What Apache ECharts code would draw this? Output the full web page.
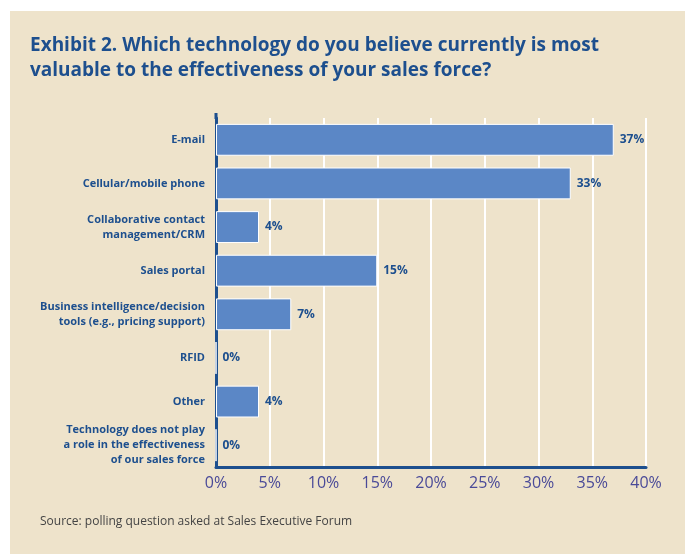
<!DOCTYPE html>
<html>
<head>
<meta charset="utf-8">
<script src="https://cdn.jsdelivr.net/npm/echarts@6/dist/echarts.min.js"></script>
<style>
  html, body { margin: 0; padding: 0; background: #fff; }
  #chart { width: 685px; height: 554px; }
</style>
</head>
<body>
<div id="chart"></div>
<script>
var categories = [
  'E-mail',
  'Cellular/mobile phone',
  'Collaborative contact\nmanagement/CRM',
  'Sales portal',
  'Business intelligence/decision\ntools (e.g., pricing support)',
  'RFID',
  'Other',
  'Technology does not play\na role in the effectiveness\nof our sales force'
]
var shares = [37, 33, 4, 15, 7, 0, 4, 0]
var xTicks = [0, 5, 10, 15, 20, 25, 30, 35, 40]

var titleText = 'Exhibit 2. Which technology do you believe currently is most\nvaluable to the effectiveness of your sales force?'
var sourceText = 'Source: polling question asked at Sales Executive Forum'

var navy = '#1d4f8e'
var chart = echarts.init(document.getElementById('chart'))

var option = {
  backgroundColor: '#fff',
  animation: false,
  textStyle: { fontFamily: 'Open Sans' },
  graphic: [
    {
      type: 'rect',
      z: -10,
      shape: { x: 10, y: 11, width: 680, height: 550 },
      style: { fill: '#eee3cb' }
    },
    {
      // the left axis line runs a bit above the first bar band
      type: 'line',
      z: 10,
      shape: { x1: 216, y1: 113, x2: 216, y2: 119 },
      style: { stroke: navy, lineWidth: 3 }
    },
    {
      type: 'text',
      left: 30,
      top: 33,
      style: {
        text: titleText,
        fill: navy,
        font: 'bold 19px "Open Sans"',
        lineHeight: 25
      }
    },
    {
      type: 'text',
      left: 40,
      top: 516,
      style: {
        text: sourceText,
        fill: '#444',
        font: '12px "Open Sans"'
      }
    }
  ],
  grid: {
    left: 216,
    right: 39,
    top: 118,
    bottom: 87
  },
  xAxis: {
    type: 'value',
    min: xTicks[0],
    max: xTicks[xTicks.length - 1],
    interval: 5,
    axisLine: { show: true, lineStyle: { color: navy, width: 3 } },
    axisTick: { show: false },
    splitLine: { show: true, lineStyle: { color: '#ffffff', width: 2 } },
    axisLabel: {
      formatter: '{value}%',
      color: '#4a4a98',
      fontSize: 16,
      margin: 8
    }
  },
  yAxis: {
    type: 'category',
    inverse: true,
    data: categories,
    axisLine: { show: true, lineStyle: { color: navy, width: 3 } },
    axisTick: { show: false },
    axisLabel: {
      color: navy,
      fontSize: 11,
      fontWeight: 'bold',
      lineHeight: 15,
      margin: 11
    }
  },
  series: [
    {
      type: 'bar',
      data: shares,
      barWidth: '73%',
      itemStyle: { color: '#5b87c6', borderColor: '#ffffff', borderWidth: 1 },
      label: {
        show: true,
        position: 'right',
        distance: 6,
        formatter: '{c}%',
        color: navy,
        fontSize: 12,
        fontWeight: 'bold'
      }
    }
  ]
}

chart.setOption(option)
</script>
</body>
</html>
